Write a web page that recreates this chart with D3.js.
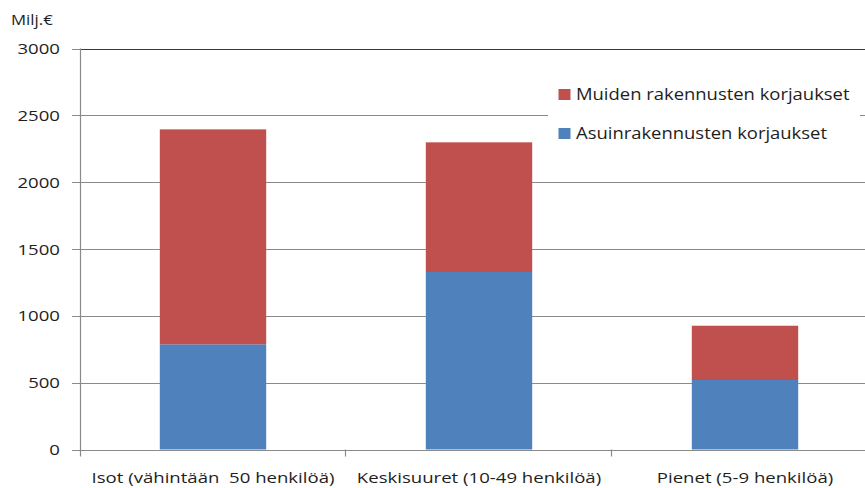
<!DOCTYPE html>
<html>
<head>
<meta charset="utf-8">
<script src="https://cdn.jsdelivr.net/npm/d3@7"></script>
<style>
  body { margin: 0; background: #fff; }
  text { font-family: "Open Sans", "DejaVu Sans", sans-serif; fill: #1e1e1e; }
</style>
</head>
<body>
<div id="chart"></div>
<script>
// categories and series (Milj.€)
var categories = ["Isot (vähintään  50 henkilöä)", "Keskisuuret (10-49 henkilöä)", "Pienet (5-9 henkilöä)"];
var asuin = [787, 1328, 520];
var muiden = [1608, 970, 406];
var seriesNames = ["Asuinrakennusten korjaukset", "Muiden rakennusten korjaukset"];
var seriesColors = ["#4F81BD", "#C0504D"];
var yTicks = [0, 500, 1000, 1500, 2000, 2500, 3000];

var width = 865, height = 488;
var margin = { top: 48.5, left: 80, bottom: 38.5 };

var svg = d3.select("#chart").append("svg")
    .attr("width", width)
    .attr("height", height);

// the original chart is a bit stretched sideways, so the text is too
function wideText(sel, x, y, sx) {
  return sel.attr("transform", "translate(" + x + "," + y + ") scale(" + sx + ",1)");
}

var x = d3.scaleBand()
    .domain(categories)
    .range([margin.left, 878])
    .padding(0);

var y = d3.scaleLinear()
    .domain([0, 3000])
    .range([height - margin.bottom, margin.top]);

// gridlines
svg.append("g")
  .selectAll("line")
  .data(yTicks)
  .enter().append("line")
    .attr("x1", margin.left - 8)
    .attr("x2", width)
    .attr("y1", function(d){ return Math.round(y(d)) + 0.5; })
    .attr("y2", function(d){ return Math.round(y(d)) + 0.5; })
    .style("stroke", "#8a8a8a")
    .style("stroke-width", 1.2);

// top border of the plot area is darker
svg.append("line")
    .attr("x1", margin.left)
    .attr("x2", width)
    .attr("y1", Math.round(y(3000)) + 0.5)
    .attr("y2", Math.round(y(3000)) + 0.5)
    .style("stroke", "#3a3a3a")
    .style("stroke-width", 1.2);

// y labels
svg.append("g")
  .selectAll("text")
  .data(yTicks)
  .enter().append("text")
    .each(function(d){ wideText(d3.select(this), 60, y(d) + 5.5, 1.24); })
    .attr("text-anchor", "end")
    .style("font-size", "15px")
    .text(function(d){ return d; });

wideText(svg.append("text"), 11, 25, 1.12)
    .style("font-size", "15px")
    .text("Milj.€");

// stacked data
var stackData = categories.map(function(c, i){
  return { cat: c, asuin: asuin[i], muiden: muiden[i] };
});
var stack = d3.stack().keys(["asuin", "muiden"])(stackData);

var barW = x.bandwidth() * 0.4;

svg.append("g")
  .selectAll("g")
  .data(stack)
  .enter().append("g")
    .style("fill", function(d, i){ return seriesColors[i]; })
  .selectAll("rect")
  .data(function(d){ return d; })
  .enter().append("rect")
    .attr("x", function(d){ return x(d.data.cat) + (x.bandwidth() - barW) / 2; })
    .attr("y", function(d){ return y(d[1]); })
    .attr("width", barW)
    .attr("height", function(d){ return y(d[0]) - y(d[1]); });

// axes
svg.append("line")
    .attr("x1", margin.left + 0.5)
    .attr("x2", margin.left + 0.5)
    .attr("y1", y(3000))
    .attr("y2", y(0) + 7)
    .style("stroke", "#8a8a8a")
    .style("stroke-width", 1.2);

svg.append("g")
  .selectAll("line")
  .data(categories.slice(1))
  .enter().append("line")
    .attr("x1", function(d){ return Math.round(x(d)) - 0.5; })
    .attr("x2", function(d){ return Math.round(x(d)) - 0.5; })
    .attr("y1", y(0))
    .attr("y2", y(0) + 7)
    .style("stroke", "#8a8a8a")
    .style("stroke-width", 1.2);

svg.append("g")
  .selectAll("text")
  .data(categories)
  .enter().append("text")
    .each(function(d){ wideText(d3.select(this), x(d) + x.bandwidth() / 2, 482.5, 1.24); })
    .attr("text-anchor", "middle")
    .attr("xml:space", "preserve")
    .style("white-space", "pre")
    .style("font-size", "15px")
    .text(function(d){ return d; });

// legend
var legend = svg.append("g");
legend.append("rect")
    .attr("x", 548)
    .attr("y", 72)
    .attr("width", 312)
    .attr("height", 78)
    .style("fill", "#fff");

var legendItems = [1, 0];
legend.selectAll("g")
  .data(legendItems)
  .enter().append("g")
    .attr("transform", function(d, i){ return "translate(558.5," + (89 + i * 39) + ")"; })
    .each(function(d){
      var g = d3.select(this);
      g.append("rect")
        .attr("x", 0).attr("y", 0)
        .attr("width", 12).attr("height", 11)
        .style("fill", seriesColors[d]);
      wideText(g.append("text"), 17.5, 10.5, 1.19)
        .style("font-size", "15.5px")
        .text(seriesNames[d]);
    });
</script>
</body>
</html>
